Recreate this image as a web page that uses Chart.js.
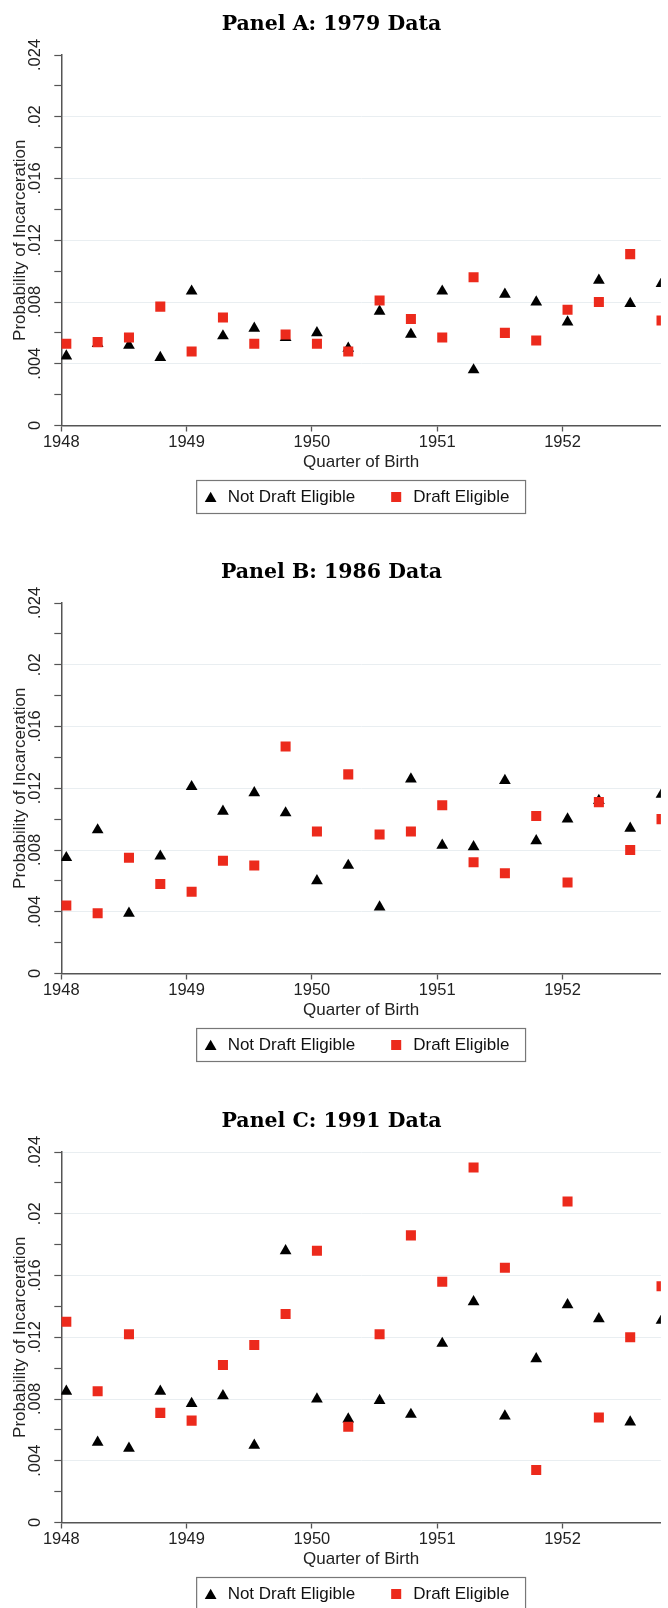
<!DOCTYPE html>
<html>
<head>
<meta charset="utf-8">
<script src="https://cdn.jsdelivr.net/npm/chart.js@4.4.1/dist/chart.umd.min.js"></script>
<style>
  html, body { margin: 0; padding: 0; background: #fff; overflow: hidden; }
  body { width: 668px; height: 1608px; position: relative; }
  .panel { position: absolute; left: 0; width: 668px; height: 549px; }
</style>
</head>
<body>
<div class="panel" style="top:0"><canvas id="panelA" width="668" height="549"></canvas></div>
<div class="panel" style="top:548px"><canvas id="panelB" width="668" height="549"></canvas></div>
<div class="panel" style="top:1097px"><canvas id="panelC" width="668" height="549"></canvas></div>
<script>
// Quarter of birth 1948q1 .. 1952q4, as placed on the year axis
const birthQuarters = [
  1948.04, 1948.29, 1948.54, 1948.79,
  1949.04, 1949.29, 1949.54, 1949.79,
  1950.04, 1950.29, 1950.54, 1950.79,
  1951.04, 1951.29, 1951.54, 1951.79,
  1952.04, 1952.29, 1952.54, 1952.79
];
const yearTicks = [1948, 1949, 1950, 1951, 1952];
const probTicks = [0, 0.002, 0.004, 0.006, 0.008, 0.01, 0.012, 0.014, 0.016, 0.018, 0.02, 0.022, 0.024];
const probTickLabels = ["0", "", ".004", "", ".008", "", ".012", "", ".016", "", ".02", "", ".024"];

const panelTitles = ["Panel A: 1979 Data", "Panel B: 1986 Data", "Panel C: 1991 Data"];
const seriesLabels = ["Not Draft Eligible", "Draft Eligible"];

// Panel A: 1979
const notEligible1979 = [.0045, .0053, .0052, .0044, .0087, .0058, .0063, .0057, .0060, .0050,
                         .0074, .0059, .0087, .0036, .0085, .0080, .0067, .0094, .0079, .0092];
const eligible1979 = [.0053, .0054, .0057, .0077, .0048, .0070, .0053, .0059, .0053, .0048,
                      .0081, .0069, .0057, .0096, .0060, .0055, .0075, .0080, .0111, .0068];

// Panel B: 1986
const notEligible1986 = [.0075, .0093, .0039, .0076, .0121, .0105, .0117, .0104, .0060, .0070,
                         .0043, .0126, .0083, .0082, .0125, .0086, .0100, .0112, .0094, .0116];
const eligible1986 = [.0044, .0039, .0075, .0058, .0053, .0073, .0070, .0147, .0092, .0129,
                      .0090, .0092, .0109, .0072, .0065, .0102, .0059, .0111, .0080, .0100];

// Panel C: 1991
const notEligible1991 = [.0085, .0052, .0048, .0085, .0077, .0082, .0050, .0176, .0080, .0067,
                         .0079, .0070, .0116, .0143, .0069, .0106, .0141, .0132, .0065, .0131];
const eligible1991 = [.0130, .0085, .0122, .0071, .0066, .0102, .0115, .0135, .0176, .0062,
                      .0122, .0186, .0156, .0230, .0165, .0034, .0208, .0068, .0120, .0153];

const SANS = '"Liberation Sans", Arial, Helvetica, sans-serif';
const RED = "#ec2a1c";
const AXIS = "#555";

Chart.defaults.font.family = SANS;
Chart.defaults.color = "#222";

// legend in a box under the plot, like Stata draws it
const boxedLegend = {
  id: "boxedLegend",
  afterDraw(chart) {
    const { ctx, chartArea } = chart;
    const sets = chart.data.datasets;
    ctx.save();
    ctx.font = "17px " + SANS;
    const w1 = ctx.measureText(sets[0].label).width;
    const w2 = ctx.measureText(sets[1].label).width;
    const boxW = 31 + w1 + 41 + 17 + w2 + 16;
    const boxH = 33;
    const left = (chartArea.left + chartArea.right) / 2 - boxW / 2;
    const top = chartArea.bottom + 55;
    const cy = top + boxH / 2;

    ctx.strokeStyle = "#777";
    ctx.lineWidth = 1.2;
    ctx.strokeRect(left, top, boxW, boxH);

    const glyph = (ds, x, y) => {
      ctx.fillStyle = ds.backgroundColor;
      Chart.helpers.drawPoint(ctx, { pointStyle: ds.pointStyle, radius: ds.pointRadius, rotation: 0, borderWidth: 0 }, x, y);
    };
    glyph(sets[0], left + 14, cy + 1.5);
    glyph(sets[1], left + 31 + w1 + 41, cy);

    ctx.fillStyle = "#111";
    ctx.textBaseline = "middle";
    ctx.textAlign = "left";
    ctx.fillText(sets[0].label, left + 31, cy);
    ctx.fillText(sets[1].label, left + 31 + w1 + 41 + 17, cy);
    ctx.restore();
  }
};

function makePanel(id, title, notEligible, eligible, topGrid) {
  return new Chart(document.getElementById(id), {
    type: "scatter",
    data: {
      datasets: [
        {
          label: seriesLabels[0],
          data: birthQuarters.map((x, i) => ({ x, y: notEligible[i] })),
          pointStyle: "triangle",
          pointRadius: 6.8,
          backgroundColor: "#000",
          borderWidth: 0,
          order: 1
        },
        {
          label: seriesLabels[1],
          data: birthQuarters.map((x, i) => ({ x, y: eligible[i] })),
          pointStyle: "rect",
          pointRadius: 7.1,
          backgroundColor: RED,
          borderWidth: 0,
          order: 0
        }
      ]
    },
    options: {
      responsive: false,
      animation: false,
      devicePixelRatio: 1,
      layout: { padding: { left: 0, right: 5, top: 0, bottom: 78 } },
      plugins: {
        legend: { display: false },
        tooltip: { enabled: false },
        title: {
          display: true,
          text: title,
          color: "#000",
          font: { family: '"DejaVu Serif", "Liberation Serif", serif', size: 20.5, weight: "bold", lineHeight: 1.2 },
          padding: { top: 12, bottom: 18.4 }
        }
      },
      scales: {
        x: {
          type: "linear",
          min: 1948,
          max: 1952.785,
          afterBuildTicks: (scale) => {
            scale.ticks = yearTicks.map((v) => ({ value: v }));
          },
          ticks: {
            autoSkip: false,
            maxRotation: 0,
            padding: 3,
            color: "#222",
            font: { size: 16.5, lineHeight: 1.0 },
            callback: (v) => String(v)
          },
          grid: { drawOnChartArea: false, drawTicks: true, tickLength: 6, tickColor: AXIS, tickWidth: 1.3 },
          border: { display: true, color: AXIS, width: 1.5 },
          title: {
            display: true,
            text: "Quarter of Birth",
            color: "#222",
            font: { size: 17, lineHeight: 1.0 },
            padding: { top: 0, bottom: 0 }
          }
        },
        y: {
          min: 0,
          max: 0.024,
          afterBuildTicks: (scale) => {
            scale.ticks = probTicks.map((v) => ({ value: v }));
          },
          ticks: {
            autoSkip: false,
            minRotation: 90,
            maxRotation: 90,
            crossAlign: "center",
            padding: 3,
            color: "#222",
            font: { size: 16.5, lineHeight: 1.0 },
            callback: (v, i) => probTickLabels[i]
          },
          grid: {
            drawTicks: true,
            tickLength: 7,
            tickColor: AXIS,
            tickWidth: 1.2,
            lineWidth: 1,
            color: (c) => {
              const i = c.index;
              if (!probTickLabels[i] || i === 0) return "rgba(0,0,0,0)";
              if (i === probTicks.length - 1 && !topGrid) return "rgba(0,0,0,0)";
              return "#e9eef1";
            }
          },
          border: { display: true, color: AXIS, width: 1.5 },
          title: {
            display: true,
            text: "Probability of Incarceration",
            color: "#222",
            font: { size: 17, lineHeight: 1.0 },
            padding: { top: 12, bottom: 2.8 }
          }
        }
      }
    },
    plugins: [boxedLegend]
  });
}

makePanel("panelA", panelTitles[0], notEligible1979, eligible1979, false);
makePanel("panelB", panelTitles[1], notEligible1986, eligible1986, false);
makePanel("panelC", panelTitles[2], notEligible1991, eligible1991, true);
</script>
</body>
</html>
